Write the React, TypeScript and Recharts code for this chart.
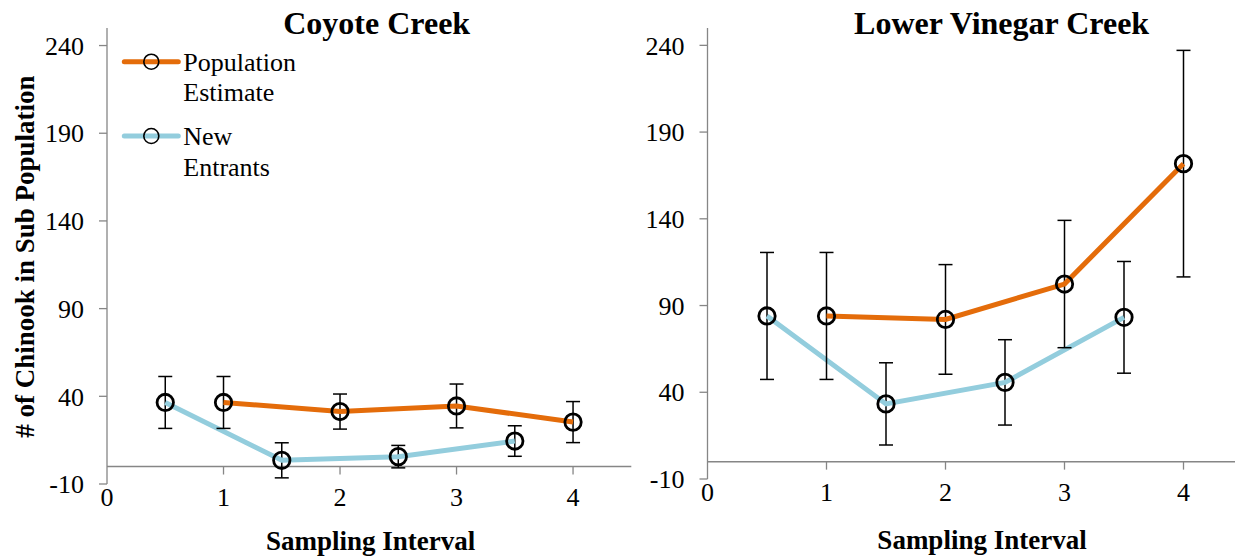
import React from 'react';
import { LineChart, Line, XAxis, YAxis, ErrorBar, ReferenceLine } from 'recharts';

const FONT = '"Liberation Serif", "Times New Roman", serif';
const ORANGE = '#E46C0A';
const BLUE = '#93CDDD';
const AXIS = '#868686';

// x positions of the two series
const popIntervals = [1, 2, 3, 4];
const newIntervals = [0.5, 1.5, 2.5, 3.5];
const xTicks = [0, 1, 2, 3, 4];
const xTickMarks = [1, 2, 3, 4];
const yTicks = [-10, 40, 90, 140, 190, 240];

// Coyote Creek
const coyotePop = [36.5, 31.3, 34.5, 25.3];
const coyotePopErr = [14.8, 10, 12.5, 11.7];
const coyoteNew = [36.5, 3.5, 5.6, 14.5];
const coyoteNewErr = [14.8, 10, 6.4, 8.7];

// Lower Vinegar Creek
const vinegarPop = [84, 82, 102.4, 171.8];
const vinegarPopErr = [36.6, 31.6, 36.7, 65.3];
const vinegarNew = [84, 33.3, 45.7, 83.2];
const vinegarNewErr = [36.6, 23.7, 24.6, 32.2];

const legendLabels = [['Population', 'Estimate'], ['New', 'Entrants']];

function buildRows(pop: number[], popErr: number[], nw: number[], nwErr: number[]) {
  const rows: any[] = [
    ...popIntervals.map((x, i) => ({ x, pop: pop[i], popErr: popErr[i] })),
    ...newIntervals.map((x, i) => ({ x, nw: nw[i], nwErr: nwErr[i] })),
  ];
  return rows.sort((a, b) => a.x - b.x);
}

const renderDot = (props: any) => {
  const { cx, cy, index } = props;
  if (cy == null || cx == null || isNaN(cy)) return <g key={`d-${index}`} />;
  return <circle key={`d-${index}`} cx={cx} cy={cy} r={8.2} fill="none" stroke="#000" strokeWidth={2.8} />;
};

const tickStyle = { fontFamily: FONT, fontSize: 26, fill: '#000' };

function Panel(props: { rows: any[]; left: number; width: number; yAxisWidth: number; marginRight: number; bottomSpace: number }) {
  const { rows, left, width, yAxisWidth, marginRight, bottomSpace } = props;
  return (
    <div style={{ position: 'absolute', left, top: 0 }}>
      <LineChart width={width} height={557} data={rows} margin={{ top: 28, right: marginRight, left: 0, bottom: 0 }}>
        <XAxis
          dataKey="x"
          type="number"
          domain={[0, 4.5]}
          ticks={xTicks}
          interval={0}
          allowDataOverflow
          axisLine={false}
          tickLine={false}
          tickSize={0}
          tickMargin={4}
          height={bottomSpace}
          tick={tickStyle}
        />
        <YAxis
          type="number"
          domain={[-10, 250]}
          ticks={yTicks}
          interval={0}
          allowDataOverflow
          width={yAxisWidth}
          axisLine={{ stroke: AXIS, strokeWidth: 1.3 }}
          tickLine={{ stroke: AXIS, strokeWidth: 1.3 }}
          tickSize={8}
          tickMargin={15}
          tick={tickStyle}
        />
        <ReferenceLine y={0} stroke={AXIS} strokeWidth={1.5} />
        {xTickMarks.map((k) => (
          <ReferenceLine key={k} segment={[{ x: k, y: 0 }, { x: k, y: -4.6 }]} stroke={AXIS} strokeWidth={1.3} />
        ))}
        <Line
          dataKey="nw"
          type="linear"
          stroke={BLUE}
          strokeWidth={5}
          connectNulls
          dot={renderDot}
          activeDot={false}
          isAnimationActive={false}
        >
          <ErrorBar dataKey="nwErr" width={7} stroke="#000" strokeWidth={1.5} direction="y" />
        </Line>
        <Line
          dataKey="pop"
          type="linear"
          stroke={ORANGE}
          strokeWidth={5}
          connectNulls
          dot={renderDot}
          activeDot={false}
          isAnimationActive={false}
        >
          <ErrorBar dataKey="popErr" width={7} stroke="#000" strokeWidth={1.5} direction="y" />
        </Line>
      </LineChart>
    </div>
  );
}

export default function App() {
  const coyoteRows = buildRows(coyotePop, coyotePopErr, coyoteNew, coyoteNewErr);
  const vinegarRows = buildRows(vinegarPop, vinegarPopErr, vinegarNew, vinegarNewErr);
  const legendColors = [ORANGE, BLUE];
  const legendY = [61.7, 136];
  return (
    <div style={{ position: 'absolute', left: 0, top: 0, width: 1235, height: 557, overflow: 'hidden', background: '#fff' }}>
      <Panel rows={coyoteRows} left={0} width={640} yAxisWidth={107} marginRight={8.7} bottomSpace={73} />
      <Panel rows={vinegarRows} left={640} width={610} yAxisWidth={67.5} marginRight={7} bottomSpace={78} />
      <svg width={1235} height={557} style={{ position: 'absolute', left: 0, top: 0, pointerEvents: 'none' }}>
        <g fontFamily={FONT} fill="#000">
          <text x={376.7} y={34.3} textAnchor="middle" fontSize={32} fontWeight="bold">Coyote Creek</text>
          <text x={1001.6} y={33.5} textAnchor="middle" fontSize={32} fontWeight="bold">Lower Vinegar Creek</text>
          <text x={370.6} y={550} textAnchor="middle" fontSize={27} fontWeight="bold">Sampling Interval</text>
          <text x={982} y={549} textAnchor="middle" fontSize={27} fontWeight="bold">Sampling Interval</text>
          <text transform="translate(33.5,256.6) rotate(-90)" textAnchor="middle" fontSize={27} fontWeight="bold">
            # of Chinook in Sub Population
          </text>
          {legendLabels.map((lines, i) => (
            <g key={i}>
              <line x1={124.3} x2={178.3} y1={legendY[i]} y2={legendY[i]} stroke={legendColors[i]} strokeWidth={5} strokeLinecap="round" />
              <circle cx={151.3} cy={legendY[i]} r={7.5} fill="none" stroke="#000" strokeWidth={1.6} />
              <text x={183.3} y={legendY[i] + 9} fontSize={26}>{lines[0]}</text>
              <text x={183.3} y={legendY[i] + 39.5} fontSize={26}>{lines[1]}</text>
            </g>
          ))}
        </g>
      </svg>
    </div>
  );
}
